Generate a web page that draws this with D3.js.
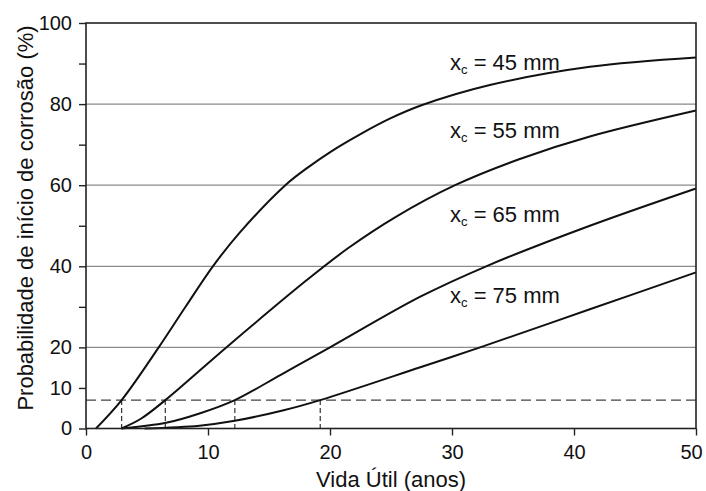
<!DOCTYPE html>
<html>
<head>
<meta charset="utf-8">
<script src="https://cdn.jsdelivr.net/npm/d3@7"></script>
<style>
body { margin:0; background:#fff; }
text { font-family: Arial, "Liberation Sans", sans-serif; fill:#111; }
</style>
</head>
<body>
<svg id="chart" width="706" height="491"></svg>
<script>
"use strict";

// curves: [years, probability %]
var xc45 = [[0.82,0],[2.92,7],[5.96,20],[8.2,30.2],[10.4,40],[12.6,48.3],[16.34,60],[18.2,64.4],[20.08,68.3],[22.5,72.6],[24.9,76.4],[27.5,79.7],[33.1,84.7],[41.3,89.2],[50,91.5]];
var xc55 = [[2.9,0],[4.5,2.4],[6.5,7],[11.5,20],[18.1,36.6],[21.5,44.5],[25.4,52.2],[30.25,60],[35.5,66.4],[41.3,72],[50,78.4]];
var xc65 = [[2.9,0],[6.56,1.4],[9.3,3.7],[12.2,7],[16,13.3],[20,20],[27.4,32.5],[32.8,40],[41.3,50],[50,59.2]];
var xc75 = [[4.8,0],[9.3,0.7],[12.2,1.9],[16.2,4.5],[19.2,7],[27.4,15.1],[32.3,20],[41.3,29.4],[50,38.5]];
var series = [xc45, xc55, xc65, xc75];
var seriesLabels = ["45","55","65","75"];
var labelPos = [[29.84,88.4],[29.84,71.6],[29.84,51.0],[29.84,30.9]];

var xTicks = [0,10,20,30,40,50];
var yTicks = [0,10,20,30,40,50,60,70,80,90,100];
var yLabels = [0,10,20,40,60,80,100];
var gridLines = [20,40,60,80];
var threshold = 7;
var crossings = [2.92,6.5,12.2,19.2];

var mLeft = 86, mRight = 696, mTop = 23, mBottom = 428.5;
var svg = d3.select("#chart");
var x = d3.scaleLinear().domain([0,50]).range([mLeft,mRight]);
var y = d3.scaleLinear().domain([0,100]).range([mBottom,mTop]);

// grid
svg.append("g").selectAll("line").data(gridLines).enter().append("line")
	.attr("x1",mLeft).attr("x2",mRight)
	.attr("y1",function(d){ return y(d); }).attr("y2",function(d){ return y(d); })
	.attr("stroke","#8a8a8a").attr("stroke-width",1.2);

// threshold dashes
svg.append("line")
	.attr("x1",x(0)).attr("x2",x(50)).attr("y1",y(threshold)).attr("y2",y(threshold))
	.attr("stroke","#444").attr("stroke-width",1.3).attr("stroke-dasharray","10,5");
svg.append("g").selectAll("line").data(crossings).enter().append("line")
	.attr("x1",function(d){ return x(d); }).attr("x2",function(d){ return x(d); })
	.attr("y1",y(threshold)).attr("y2",y(0))
	.attr("stroke","#333").attr("stroke-width",1.2).attr("stroke-dasharray","5,3");

// curves
var line = d3.line().x(function(d){ return x(d[0]); }).y(function(d){ return y(d[1]); }).curve(d3.curveCatmullRom.alpha(0.5));
svg.append("g").selectAll("path").data(series).enter().append("path")
	.attr("d",line).attr("fill","none").attr("stroke","#111").attr("stroke-width",2);

// frame
svg.append("rect").attr("x",mLeft).attr("y",mTop).attr("width",mRight-mLeft).attr("height",mBottom-mTop)
	.attr("fill","none").attr("stroke","#222").attr("stroke-width",1.6);

// axes
var xAxis = svg.append("g").attr("transform","translate(0,"+mBottom+")")
	.call(d3.axisBottom(x).tickValues(xTicks).tickSize(7).tickPadding(9).tickFormat(d3.format("d")));
var yAxis = svg.append("g").attr("transform","translate("+mLeft+",0)")
	.call(d3.axisLeft(y).tickValues(yTicks).tickSize(7).tickPadding(7)
		.tickFormat(function(d){ return yLabels.indexOf(d) > -1 ? d : ""; }));
[xAxis, yAxis].forEach(function(a){
	a.select(".domain").remove();
	a.selectAll("line").attr("stroke","#222").attr("stroke-width",1.4);
	a.selectAll("text").attr("font-size",20).attr("font-family","Arial, 'Liberation Sans', sans-serif").attr("fill","#111");
});
xAxis.selectAll("text").filter(function(d){ return d === 50; }).attr("dx",-5);

// titles
svg.append("text").attr("x",391).attr("y",487).attr("text-anchor","middle").attr("font-size",22)
	.text("Vida Útil (anos)");
svg.append("text").attr("transform","translate(33,218) rotate(-90)")
	.attr("text-anchor","middle").attr("font-size",22)
	.text("Probabilidade de início de corrosão (%)");

// curve labels
var lab = svg.append("g").selectAll("text").data(seriesLabels).enter().append("text")
	.attr("x",function(d,i){ return x(labelPos[i][0]); })
	.attr("y",function(d,i){ return y(labelPos[i][1]); })
	.attr("font-size",22);
lab.append("tspan").text("x");
lab.append("tspan").attr("font-size",13).attr("dy",4).text("c");
lab.append("tspan").attr("dy",-4).text(function(d){ return " = "+d+" mm"; });
</script>
</body>
</html>
